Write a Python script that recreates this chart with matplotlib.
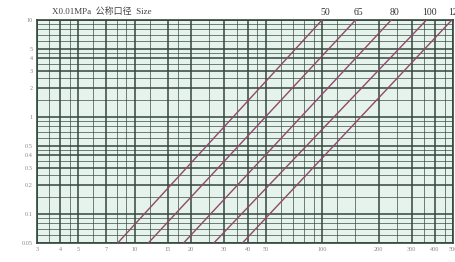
import numpy as np
import matplotlib
matplotlib.use("Agg")
import matplotlib.pyplot as plt

# ---------------- DATOS ----------------
sizes = ["50", "65", "80", "100", "125"]
flow_bottom = [8.1, 11.8, 18.2, 26.4, 37.5]     # caudal a 0.05
flow_top = [100, 151, 234, 361, 493]            # caudal a 10
dp_range = [0.05, 10]

x_ticks = [3, 4, 5, 7, 10, 15, 20, 30, 40, 50, 100, 200, 300, 400, 500]
x_labels = ["3", "4", "5", "7", "10", "15", "20", "30", "40", "50",
            "100", "200", "300", "400", "500"]
y_ticks = [0.05, 0.1, 0.2, 0.3, 0.4, 0.5, 1, 2, 3, 4, 5, 10]
y_labels = ["0.05", "0.1", "0.2", "0.3", "0.4", "0.5", "1", "2", "3", "4", "5", "10"]

x_grid_minor = [3.5, 4.5, 6, 8, 9, 12, 17, 25, 35, 45, 60, 70, 80, 90,
                120, 150, 250, 350, 450]
y_grid_minor = [0.06, 0.07, 0.08, 0.09, 0.15, 0.25, 0.35, 0.45, 0.6, 0.7,
                0.8, 0.9, 1.5, 2.5, 3.5, 4.5, 6, 7, 8, 9]

# ---------------- FIGURA ----------------
fig = plt.figure(figsize=(4.55, 2.62), dpi=100)
ax = fig.add_axes([0.081, 0.0725, 0.915, 0.852])
ax.set_facecolor("#e6f3ec")
ax.set_xscale("log")
ax.set_yscale("log")
ax.set_xlim(3, 500)
ax.set_ylim(0.05, 10)

grid_col = "#34463c"
for xv in x_grid_minor:
    ax.axvline(xv, color=grid_col, lw=0.6, alpha=0.8, zorder=1)
for xv in x_ticks:
    ax.axvline(xv, color=grid_col, lw=1.1, zorder=1)
for yv in y_grid_minor:
    ax.axhline(yv, color=grid_col, lw=0.6, alpha=0.8, zorder=1)
for yv in y_ticks:
    ax.axhline(yv, color=grid_col, lw=1.1, zorder=1)

# lineas de cada diametro
for s, q0, q1 in zip(sizes, flow_bottom, flow_top):
    ax.plot([q0, q1], dp_range, color="#8e4a68", lw=1.0, zorder=3)
    ax.text(q1 * 1.04, 10.6, s, ha="center", va="bottom", fontsize=7,
            family="Liberation Serif", color="#333333", clip_on=False)

ax.set_xticks(x_ticks)
ax.set_xticklabels(x_labels)
ax.set_yticks(y_ticks)
ax.set_yticklabels(y_labels)
ax.minorticks_off()
ax.tick_params(length=0, labelsize=4.5, colors="#888888", pad=3)
for lab in ax.get_xticklabels() + ax.get_yticklabels():
    lab.set_family("Liberation Serif")

for sp in ax.spines.values():
    sp.set_color(grid_col)
    sp.set_linewidth(1.2)

fig.text(0.115, 0.955, "X0.01MPa  公称口径  Size", fontsize=6.5,
         family=["Liberation Serif", "Noto Sans CJK SC"], color="#444444",
         va="center")

fig.savefig("out.png", dpi=100, facecolor="white")
